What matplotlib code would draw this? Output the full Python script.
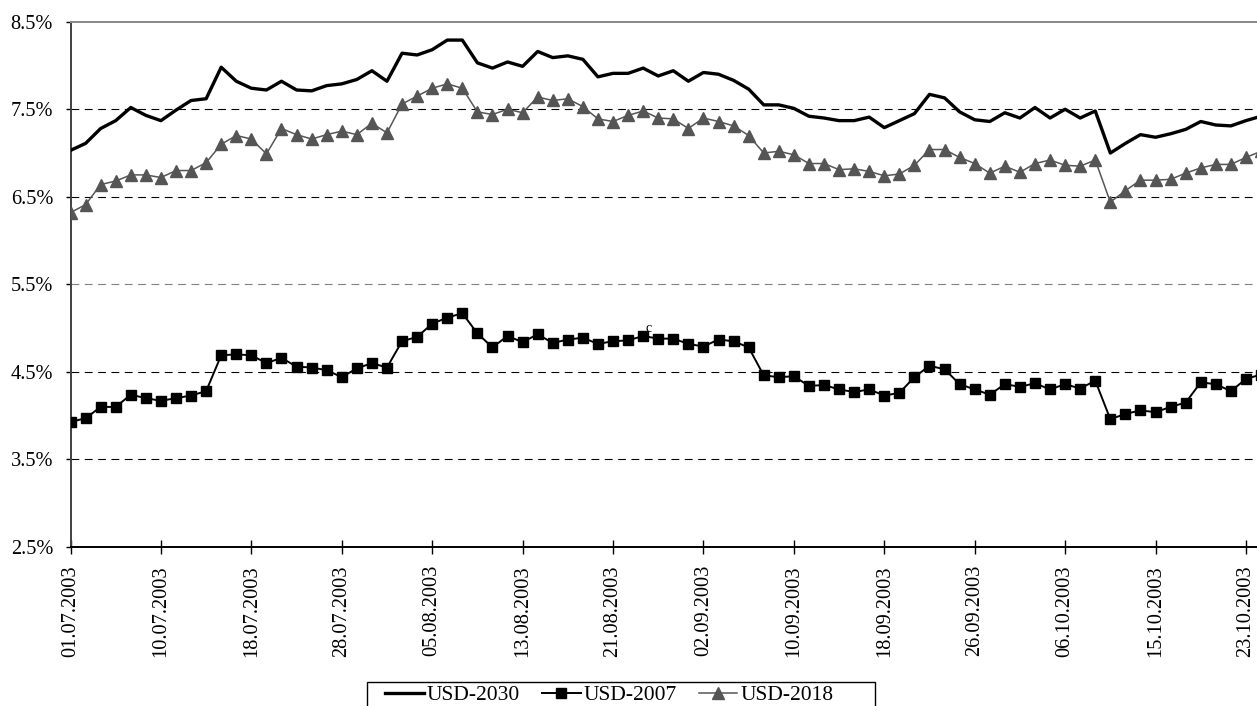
import matplotlib
matplotlib.use("Agg")
import matplotlib.pyplot as plt
from matplotlib.patches import Rectangle

# tick labels (every 6th trading day)
tick_labels = ["01.07.2003", "10.07.2003", "18.07.2003", "28.07.2003", "05.08.2003",
               "13.08.2003", "21.08.2003", "02.09.2003", "10.09.2003", "18.09.2003",
               "26.09.2003", "06.10.2003", "15.10.2003", "23.10.2003"]

# yields, %
usd_2030 = [7.03, 7.11, 7.28, 7.37, 7.52, 7.43, 7.37, 7.49, 7.60, 7.62,
            7.98, 7.82, 7.74, 7.72, 7.82, 7.72, 7.71, 7.77, 7.79, 7.84,
            7.94, 7.82, 8.14, 8.12, 8.18, 8.29, 8.29, 8.03, 7.97, 8.04,
            7.99, 8.16, 8.09, 8.11, 8.07, 7.87, 7.91, 7.91, 7.97, 7.88,
            7.94, 7.82, 7.92, 7.90, 7.83, 7.73, 7.55, 7.55, 7.51, 7.42,
            7.40, 7.37, 7.37, 7.41, 7.29, 7.37, 7.45, 7.67, 7.63, 7.47,
            7.38, 7.36, 7.46, 7.40, 7.52, 7.40, 7.50, 7.40, 7.48, 7.00,
            7.11, 7.21, 7.18, 7.22, 7.27, 7.36, 7.32, 7.31, 7.37, 7.42]

usd_2007 = [3.93, 3.97, 4.10, 4.10, 4.24, 4.20, 4.17, 4.20, 4.23, 4.28,
            4.69, 4.70, 4.69, 4.60, 4.66, 4.56, 4.55, 4.52, 4.44, 4.54,
            4.60, 4.55, 4.85, 4.90, 5.05, 5.12, 5.17, 4.94, 4.78, 4.91,
            4.84, 4.93, 4.83, 4.87, 4.89, 4.82, 4.85, 4.86, 4.91, 4.88,
            4.88, 4.82, 4.79, 4.87, 4.85, 4.78, 4.46, 4.44, 4.45, 4.34,
            4.35, 4.30, 4.27, 4.30, 4.23, 4.26, 4.44, 4.57, 4.53, 4.36,
            4.30, 4.24, 4.36, 4.33, 4.37, 4.30, 4.36, 4.31, 4.40, 3.96,
            4.02, 4.06, 4.04, 4.10, 4.15, 4.38, 4.36, 4.28, 4.42, 4.47]

usd_2018 = [6.32, 6.41, 6.64, 6.68, 6.75, 6.75, 6.72, 6.80, 6.80, 6.89,
            7.10, 7.20, 7.16, 6.99, 7.28, 7.21, 7.16, 7.21, 7.25, 7.21,
            7.34, 7.23, 7.56, 7.65, 7.74, 7.79, 7.74, 7.47, 7.44, 7.50,
            7.46, 7.64, 7.60, 7.62, 7.53, 7.39, 7.36, 7.43, 7.48, 7.40,
            7.39, 7.28, 7.40, 7.36, 7.31, 7.20, 7.00, 7.02, 6.98, 6.88,
            6.88, 6.81, 6.82, 6.79, 6.74, 6.76, 6.86, 7.04, 7.04, 6.95,
            6.88, 6.77, 6.85, 6.78, 6.88, 6.92, 6.86, 6.85, 6.92, 6.44,
            6.57, 6.69, 6.69, 6.70, 6.77, 6.83, 6.87, 6.87, 6.95, 7.02]

y_ticks = [2.5, 3.5, 4.5, 5.5, 6.5, 7.5, 8.5]

plt.rcParams["font.family"] = ["Liberation Serif", "DejaVu Serif"]
plt.rcParams["font.size"] = 14.7

W, H = 1257, 706
fig = plt.figure(figsize=(W / 100, H / 100), dpi=100)
ax = fig.add_axes([70.5 / W, 1 - 547 / H, 1 - 70.5 / W, (547 - 21.7) / H])

x = list(range(len(usd_2030)))
grey = "#555555"

ax.plot(x, usd_2030, color="black", lw=2.4, label="USD-2030", zorder=3)
ax.plot(x, usd_2007, color="black", lw=1.4, marker="s", markersize=7.5,
        label="USD-2007", zorder=4)
ax.plot(x, usd_2018, color=grey, lw=1.1, marker="^", markersize=8.5,
        label="USD-2018", zorder=3)

# stray data label
ax.annotate("c", xy=(38, usd_2007[38]), xytext=(3.6, 5.5), textcoords="offset points",
            fontsize=10, ha="center", va="center")

ax.set_xlim(0, (W - 70.5) / 15.07)
ax.set_ylim(2.5, 8.5)

ax.set_xticks(range(0, 6 * len(tick_labels), 6))
ax.set_xticklabels(tick_labels, rotation=90)
ax.set_yticks(y_ticks)
ax.set_yticklabels([f"{v:.1f}%" for v in y_ticks])

ax.tick_params(axis="x", direction="inout", length=10, width=1, pad=8)
ax.tick_params(axis="y", direction="out", length=3.6, width=1, pad=9)

# dashed horizontal gridlines
for v in y_ticks[1:-1]:
    col = "#808080" if v == 5.5 else "black"
    ax.axhline(v, color=col, lw=0.8, linestyle=(0, (7, 5)), zorder=1)

ax.spines["right"].set_visible(False)
ax.spines["top"].set_color("#888888")
ax.spines["top"].set_linewidth(1.4)
ax.spines["left"].set_color("#404040")
ax.spines["left"].set_linewidth(1.4)
ax.spines["bottom"].set_color("black")
ax.spines["bottom"].set_linewidth(1.4)

# legend box (runs past the bottom edge)
fig.add_artist(Rectangle((367 / W, -0.05), (875 - 367) / W, 0.05 + 1 - 682 / H,
                         transform=fig.transFigure, fill=False,
                         edgecolor="black", lw=1.0))
fig.legend(loc="upper left", bbox_to_anchor=(385 / W, 1 - 685 / H),
           bbox_transform=fig.transFigure, ncol=3, frameon=False,
           fontsize=15.5, handlelength=1.8, handletextpad=0.15,
           columnspacing=1.0, borderpad=0, borderaxespad=0)

fig.savefig("out.png", dpi=100)
